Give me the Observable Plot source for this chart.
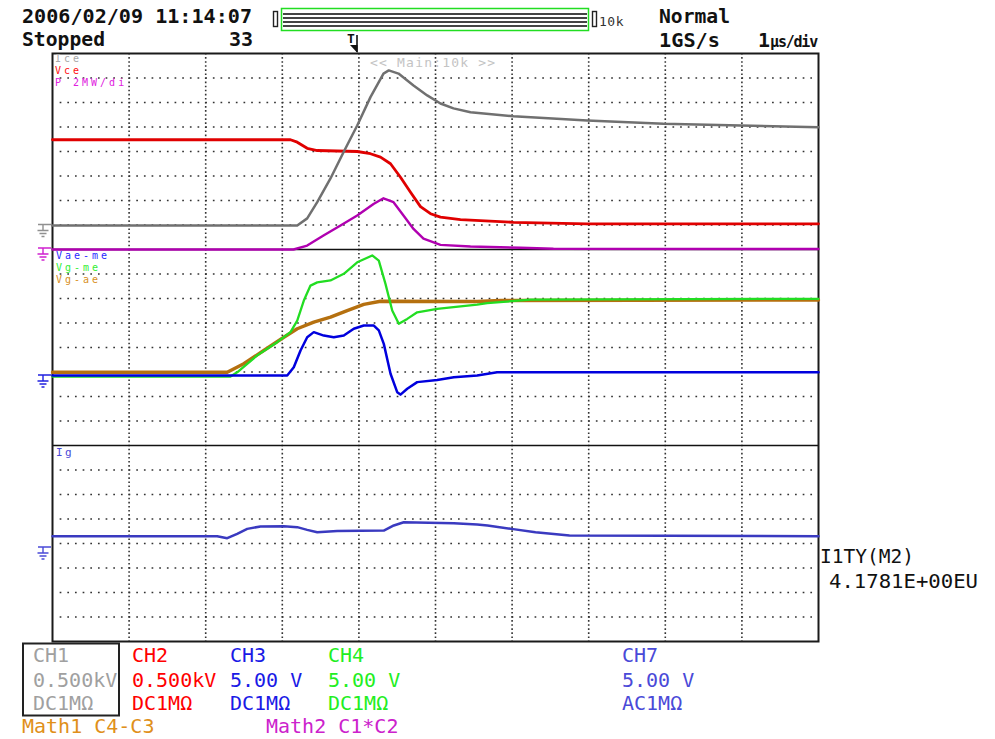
<!DOCTYPE html>
<html><head><meta charset="utf-8">
<script src="https://cdn.jsdelivr.net/npm/d3@7"></script>
<script src="https://cdn.jsdelivr.net/npm/@observablehq/plot@0.6"></script>
<style>
html,body{margin:0;padding:0;background:#fff;}
#wrap{position:relative;width:995px;height:739px;overflow:hidden;background:#fff;}
#wrap svg.overlay{position:absolute;left:0;top:0;pointer-events:none;}
</style></head><body><div id="wrap"></div>
<script>
// ---- time axis: microseconds relative to trigger (1 µs/div), values in divisions above each channel's ground ----
const iceT = [-4.00, -0.805, -0.675, -0.544, -0.371, -0.201, -0.022, 0.151, 0.321, 0.390, 0.517, 0.713, 0.892, 1.065, 1.235, 1.457, 2.018, 2.980, 3.977, 4.982, 6.00];
const iceV = [-0.02, -0.02, 0.27, 0.93, 1.90, 2.97, 4.06, 5.22, 6.18, 6.31, 6.18, 5.69, 5.29, 4.96, 4.76, 4.60, 4.44, 4.27, 4.13, 4.06, 3.99];

const vceT = [-4.00, -0.893, -0.805, -0.675, -0.544, -0.022, 0.151, 0.282, 0.413, 0.543, 0.674, 0.804, 0.935, 1.065, 1.326, 2.018, 2.980, 6.00];
const vceV = [3.48, 3.48, 3.38, 3.13, 3.04, 3.00, 2.91, 2.77, 2.50, 1.95, 1.34, 0.75, 0.46, 0.32, 0.22, 0.11, 0.05, 0.05];

const pT = [-4.00, -0.854, -0.675, -0.462, -0.240, -0.022, 0.191, 0.321, 0.452, 0.582, 0.713, 0.843, 1.065, 1.457, 2.110, 2.540, 6.00];
const pV = [-0.04, -0.04, 0.12, 0.53, 0.94, 1.35, 1.82, 2.05, 1.89, 1.35, 0.80, 0.40, 0.15, 0.08, 0.03, -0.01, -0.02];

const vaeT = [-4.00, -0.936, -0.850, -0.762, -0.675, -0.589, -0.458, -0.328, -0.197, -0.067, 0.064, 0.195, 0.260, 0.325, 0.413, 0.500, 0.543, 0.631, 0.761, 1.022, 1.239, 1.544, 1.805, 6.00];
const vaeV = [0, 0, 0.34, 1.02, 1.56, 1.77, 1.63, 1.56, 1.63, 1.91, 2.04, 2.04, 1.84, 1.29, 0.07, -0.68, -0.78, -0.54, -0.27, -0.18, -0.07, 0, 0.13, 0.13];

const vgmT = [-4.00, -1.676, -1.589, -1.328, -1.067, -0.893, -0.805, -0.719, -0.632, -0.544, -0.371, -0.197, -0.022, 0.174, 0.260, 0.347, 0.435, 0.521, 0.631, 0.761, 1.022, 1.235, 1.544, 1.675, 2.240, 6.00];
const vgmV = [-0.04, -0.04, 0.13, 0.82, 1.36, 1.77, 2.24, 3.06, 3.67, 3.80, 3.88, 4.15, 4.62, 4.90, 4.69, 3.74, 2.65, 2.11, 2.31, 2.58, 2.72, 2.79, 2.89, 2.95, 3.10, 3.13];

const vgaT = [-4.00, -1.719, -1.503, -1.242, -0.980, -0.805, -0.589, -0.371, -0.153, 0.064, 0.282, 1.544, 1.849, 6.00];
const vgaV = [0.13, 0.13, 0.48, 1.02, 1.56, 1.91, 2.18, 2.38, 2.65, 2.90, 3.03, 3.02, 3.06, 3.08];

const igT = [-4.00, -1.850, -1.719, -1.589, -1.458, -1.285, -0.980, -0.805, -0.675, -0.544, -0.283, 0.325, 0.456, 0.586, 1.239, 1.544, 1.679, 1.992, 2.305, 2.749, 6.00];
const igV = [0.46, 0.46, 0.38, 0.56, 0.76, 0.86, 0.87, 0.83, 0.72, 0.62, 0.67, 0.69, 0.90, 1.03, 0.99, 0.94, 0.90, 0.76, 0.62, 0.49, 0.46];

// ground levels (divisions from bottom of the 24-division screen)
const groundTop = 17.0, groundMath2 = 16.04, groundMid = 10.857, groundCh7 = 3.837;

// grid
const xGrid = [-3, -2, -1, 0, 1, 2, 3, 4, 5];
const yGrid = [1, 2, 3, 4, 5, 6, 7, 9, 10, 11, 12, 13, 14, 15, 17, 18, 19, 20, 21, 22, 23];
const panelBorders = [8, 16];

// legend / labels
const chNames = ["CH1", "CH2", "CH3", "CH4", "CH7"];
const chScales = ["0.500kV", "0.500kV", "5.00 V", "5.00 V", "5.00 V"];
const chCoupling = ["DC1MΩ", "DC1MΩ", "DC1MΩ", "DC1MΩ", "AC1MΩ"];
const chTextColors = ["#a0a0a0", "#ff0000", "#1a1ae6", "#22ee22", "#4a4ad8"];
const mathNames = ["Math1 C4-C3", "Math2 C1*C2"];
const mathColors = ["#e0901a", "#cc22cc"];

const series = (ts, vs, g) => ts.map((t, i) => ({t, y: g + vs[i]}));

const plot = Plot.plot({
  width: 995, height: 739,
  marginLeft: 52, marginRight: 177, marginTop: 53, marginBottom: 98,
  x: {domain: [-4, 6], axis: null},
  y: {domain: [0, 24], axis: null},
  style: {background: "transparent"},
  marks: [
    Plot.ruleY(yGrid, {x1: -3.9, x2: 6, stroke: "#333", strokeWidth: 1.7, strokeDasharray: "1.7,5.96"}),
    Plot.ruleX(xGrid, {y1: 24, y2: 0, stroke: "#333", strokeWidth: 1.6, strokeDasharray: "1.6,2.48"}),
    Plot.ruleY(panelBorders, {stroke: "#111", strokeWidth: 1.6}),
    Plot.frame({stroke: "#1a1a1a", strokeWidth: 2}),
    Plot.line(series(pT, pV, groundMath2), {x: "t", y: "y", stroke: "#b000b0", strokeWidth: 2.4}),
    Plot.line(series(vceT, vceV, groundTop), {x: "t", y: "y", stroke: "#e00000", strokeWidth: 2.8}),
    Plot.line(series(iceT, iceV, groundTop), {x: "t", y: "y", stroke: "#707070", strokeWidth: 2.5}),
    Plot.line(series(vgaT, vgaV, groundMid), {x: "t", y: "y", stroke: "#b5700f", strokeWidth: 3.4}),
    Plot.line(series(vgmT, vgmV, groundMid), {x: "t", y: "y", stroke: "#22dd22", strokeWidth: 2.3}),
    Plot.line(series(vaeT, vaeV, groundMid), {x: "t", y: "y", stroke: "#0000dd", strokeWidth: 2.5}),
    Plot.line(series(igT, igV, groundCh7), {x: "t", y: "y", stroke: "#3a3ac0", strokeWidth: 2.5})
  ]
});
const wrap = document.getElementById("wrap");
wrap.appendChild(plot);

const yS = plot.scale("y");
const ov = d3.select(wrap).append("svg").attr("class", "overlay")
  .attr("width", 995).attr("height", 739).attr("viewBox", "0 0 995 739");

const mono = "'DejaVu Sans Mono', 'Liberation Mono', monospace";
function txt(x, y, s, o = {}) {
  const t = ov.append("text").attr("x", x).attr("y", y).text(s)
    .attr("font-family", mono).attr("font-size", o.size || 20)
    .attr("font-weight", o.weight || "normal").attr("fill", o.fill || "#111");
  if (o.ls) t.attr("letter-spacing", o.ls);
  if (o.len) t.attr("textLength", o.len).attr("lengthAdjust", "spacingAndGlyphs");
  return t;
}

// header
txt(22, 23, "2006/02/09 11:14:07", {weight: "bold", len: 230});
txt(22, 46, "Stopped", {weight: "bold", len: 83});
txt(229, 46, "33", {weight: "bold"});
txt(659, 23, "Normal", {weight: "bold", len: 71});
txt(659, 47, "1GS/s", {weight: "bold", len: 61});
const sd = txt(758, 47, "1", {weight: "bold"});
sd.append("tspan").attr("font-size", 15).attr("letter-spacing", -1.2).text("µs/div");
txt(599, 26, "10k", {size: 13, fill: "#333", ls: 0.5});

// acquisition bar
ov.append("rect").attr("x", 273.5).attr("y", 11.5).attr("width", 4).attr("height", 15).attr("fill", "#fff").attr("stroke", "#222").attr("stroke-width", 1.4);
ov.append("rect").attr("x", 592.5).attr("y", 11.5).attr("width", 4).attr("height", 15).attr("fill", "#fff").attr("stroke", "#222").attr("stroke-width", 1.4);
ov.append("rect").attr("x", 281.5).attr("y", 8.5).attr("width", 307).attr("height", 22).attr("fill", "none").attr("stroke", "#22dd22").attr("stroke-width", 1.5);
[14, 18, 22, 26].forEach(yy => ov.append("line").attr("x1", 283).attr("x2", 587).attr("y1", yy).attr("y2", yy).attr("stroke", "#444").attr("stroke-width", 1.8));

// trigger marker
txt(347, 43, "T", {size: 13, weight: "bold"});
ov.append("line").attr("x1", 357).attr("x2", 357).attr("y1", 35).attr("y2", 52).attr("stroke", "#111").attr("stroke-width", 1.6);
ov.append("path").attr("d", "M350,45 L357.5,45 L357.5,53 Z").attr("fill", "#111");

// in-plot labels
txt(370, 67, "<< Main:10k >>", {size: 13, fill: "#c4c4c4", ls: 1.2});
txt(55, 62, "Ice", {size: 10, fill: "#a8a8a8", ls: 3});
txt(55, 74, "Vce", {size: 10, fill: "#ff1010", ls: 3});
txt(55, 86, "P 2MW/di", {size: 10, fill: "#e020e0", ls: 3});
txt(56, 259, "Vae-me", {size: 10, fill: "#2a2aff", ls: 3});
txt(56, 271, "Vg-me", {size: 10, fill: "#33ee33", ls: 3});
txt(56, 283, "Vg-ae", {size: 10, fill: "#d8901e", ls: 3});
txt(56, 456, "Ig", {size: 11, fill: "#4a4ad8", ls: 2.5});

// ground markers, placed through the plot's y scale
function ground(g, color) {
  const y = yS.apply(g);
  ov.append("path")
    .attr("d", `M38,${y} H51 M43,${y} V${y + 6} M37.5,${y + 6} H48.5 M39.5,${y + 9} H46.5 M41.5,${y + 12} H44.5`)
    .attr("fill", "none").attr("stroke", color).attr("stroke-width", 1.4);
}
ground(groundTop, "#909090");
ground(groundMath2, "#d020d0");
ground(groundMid, "#2020e0");
ground(groundCh7, "#4a4ad8");

// right-side measurement
txt(820, 563, "I1TY(M2)", {len: 94});
txt(829, 588, "4.1781E+00EU", {len: 149});

// bottom legend
const colX = [33, 132, 230, 328, 622];
chNames.forEach((n, i) => {
  txt(colX[i], 662, n, {fill: chTextColors[i]});
  txt(colX[i], 687, chScales[i], {fill: chTextColors[i]});
  txt(colX[i], 710, chCoupling[i], {fill: chTextColors[i]});
});
ov.append("rect").attr("x", 23).attr("y", 643.5).attr("width", 96).attr("height", 72).attr("fill", "none").attr("stroke", "#222").attr("stroke-width", 2);
txt(22, 733, mathNames[0], {fill: mathColors[0]});
txt(266, 733, mathNames[1], {fill: mathColors[1]});
</script></body></html>
